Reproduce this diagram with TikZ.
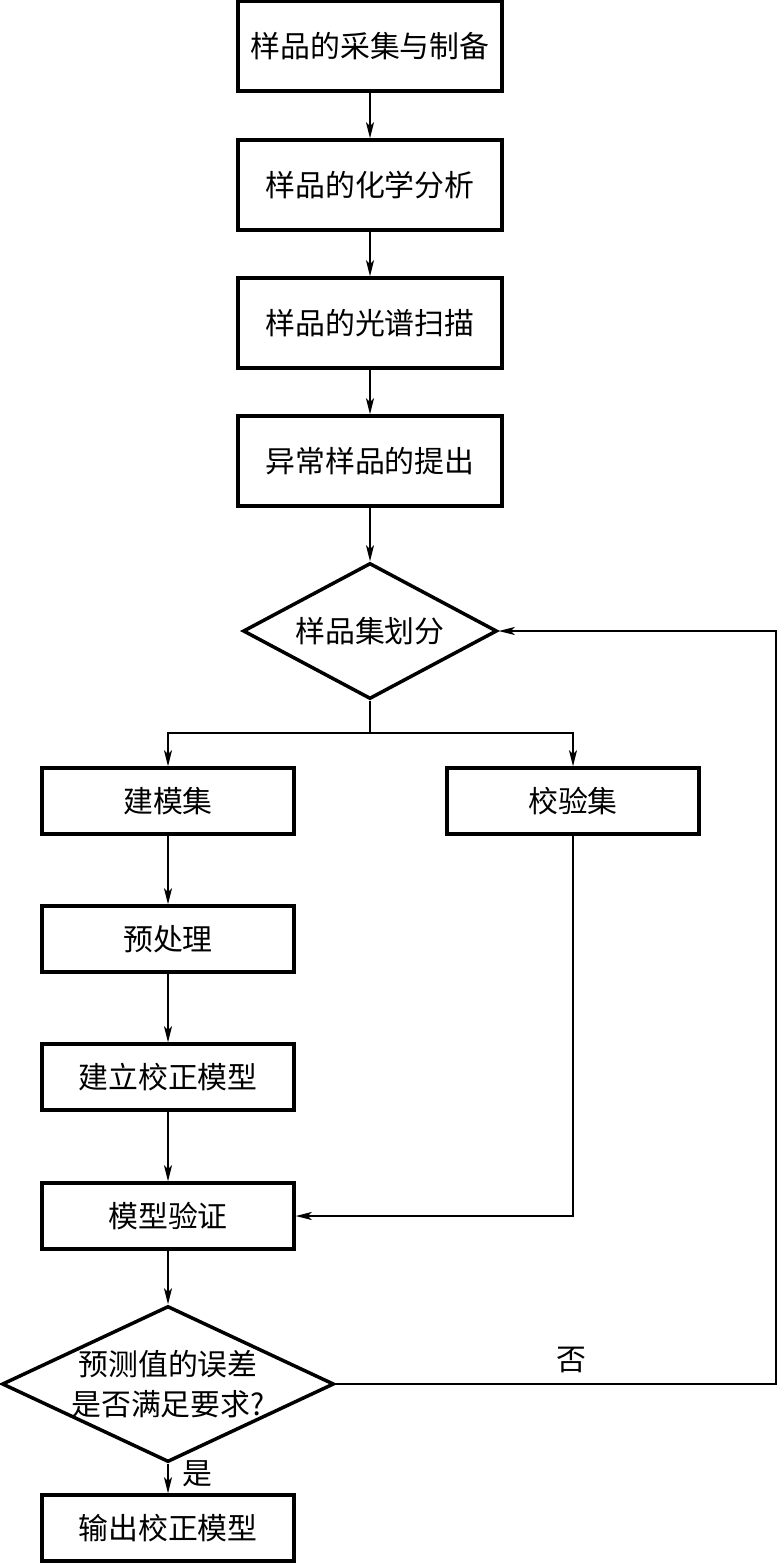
\documentclass[tikz,border=0pt]{standalone}
\usepackage{fontspec}
\setmainfont{Noto Sans CJK SC}
\usetikzlibrary{arrows.meta,shapes.geometric}
\begin{document}
\begin{tikzpicture}[x=1bp,y=-1bp,
  txt/.style={font=\fontsize{30}{40}\selectfont},
  box/.style={draw,line width=3.5bp,minimum width=264bp,minimum height=90bp,inner sep=0pt,txt},
  sbox/.style={draw,line width=3.5bp,minimum width=252bp,minimum height=66bp,inner sep=0pt,txt},
  dia/.style={draw,diamond,line width=3.5bp,inner sep=0pt},
  conn/.style={line width=1.5bp,-{Stealth[length=16bp,width=8bp,inset=4bp]}},
  plain/.style={line width=1.5bp}
]
\useasboundingbox (0,0) rectangle (778,1563);

\node[box] (b1) at (370,46) {样品的采集与制备};
\node[box] (b2) at (370,185) {样品的化学分析};
\node[box] (b3) at (370,323) {样品的光谱扫描};
\node[box] (b4) at (370,461) {异常样品的提出};

\node[dia,minimum width=254bp,minimum height=136bp] (d1) at (370,631) {};
\node[txt] (d1t) at (d1.center) {样品集划分};

\coordinate (split) at (370,733);

\node[sbox] (m1) at (168,801) {建模集};
\node[sbox] (v1) at (573,801) {校验集};
\node[sbox] (m2) at (168,939) {预处理};
\node[sbox] (m3) at (168,1077) {建立校正模型};
\node[sbox] (m4) at (168,1216) {模型验证};

\node[dia,minimum width=332bp,minimum height=156bp] (d2) at (168,1384) {};
\node[txt,align=center] (d2t) at (d2.center) {预测值的误差\\是否满足要求?};

\node[sbox] (m5) at (168,1528) {输出校正模型};

\coordinate (fbx) at (776,631);

\node[txt] (no) at (571,1360) {否};
\node[txt] (yes) at (197,1474) {是};

\draw[conn] (b1) -- (b2);
\draw[conn] (b2) -- (b3);
\draw[conn] (b3) -- (b4);
\draw[conn] (b4) -- (d1.north);
\draw[plain] (d1.south) -- (split);
\draw[conn] (split) -| (m1.north);
\draw[conn] (split) -| (v1.north);
\draw[conn] (m1) -- (m2);
\draw[conn] (m2) -- (m3);
\draw[conn] (m3) -- (m4);
\draw[conn] (v1.south) |- (m4.east);
\draw[conn] (m4) -- (d2.north);
\draw[conn] (d2.south) -- (m5.north);
\draw[conn] (d2.east) -- (d2.east -| fbx) -- (fbx) -- (d1.east);
\end{tikzpicture}
\end{document}
